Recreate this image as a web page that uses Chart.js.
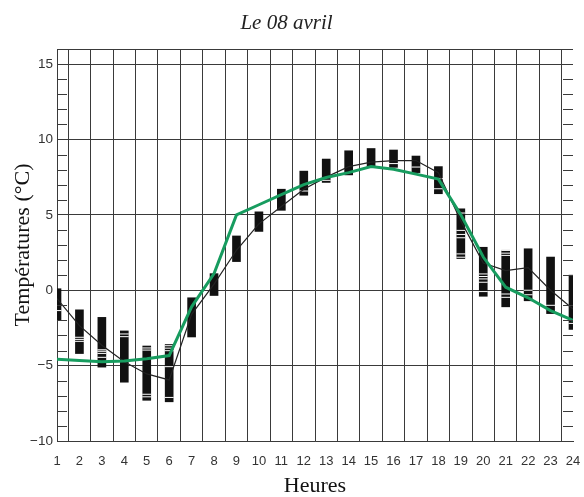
<!DOCTYPE html>
<html><head><meta charset="utf-8">
<script src="https://cdn.jsdelivr.net/npm/chart.js@4/dist/chart.umd.min.js"></script>
<style>html,body{margin:0;padding:0;background:#fff}#wrap{width:584px;height:497px}</style>
</head><body><div id="wrap"><canvas id="c"></canvas></div>
<script>
const hours = [1,2,3,4,5,6,7,8,9,10,11,12,13,14,15,16,17,18,19,20,21,22,23,24];
const boxLow  = [-2.0,-4.2,-5.1,-6.1,-7.3,-7.4,-3.1,-0.35,1.9,3.9,5.3,6.3,7.15,7.65,8.15,8.15,7.8,6.4,2.1,-0.4,-1.1,-0.7,-1.55,-2.6];
const boxHigh = [0.1,-1.3,-1.8,-2.7,-3.7,-3.6,-0.5,1.1,3.6,5.2,6.7,7.9,8.7,9.25,9.4,9.3,8.9,8.2,5.4,2.85,2.65,2.75,2.2,1.0];
const meanTemp  = [-0.55,-2.35,-3.65,-4.75,-5.55,-5.95,-1.6,0.4,2.65,4.4,5.55,6.7,7.5,8.2,8.5,8.6,8.6,7.8,4.6,1.8,1.3,1.5,0.0,-1.25];
const greenTemp = [-4.57,-4.66,-4.75,-4.7,-4.55,-4.33,-1.1,1.1,5.0,5.67,6.34,7.0,7.48,7.8,8.2,8.03,7.7,7.37,5.0,2.2,0.2,-0.5,-1.35,-2.0];
const stripeValues = [
  [-1.35],[-3.12,-3.26,-3.39],[-3.95,-4.05,-4.19,-4.45],[-2.9,-3.08],
  [-3.83,-3.97,-6.9,-7.07],[-3.68,-3.84,-4.01,-5.07,-7.11],[],[],
  [],[],[],[6.58],[7.29],[],[],[8.4],[8.17],[7.4,6.73],
  [5.12,3.97,3.7,3.48,2.41,2.19],[1.08,0.91,0.75,0.53,-0.09],[2.64,2.46,2.31,-0.25,-0.47],[0.0,-0.3],[-1.0],[-2.2]
];
const yMajorLabels = [-10,-5,0,5,10,15];

const stripePoints = [];
stripeValues.forEach((arr,i)=>arr.forEach(v=>stripePoints.push({x:hours[i],y:v})));

const gridCol = '#3a3a3a';
const minorTicks = {
  id:'minorTicks',
  afterDraw(chart){
    const y = chart.scales.y, a = chart.chartArea, ctx = chart.ctx;
    ctx.save();
    ctx.strokeStyle = gridCol; ctx.lineWidth = 1;
    for (let v = y.min; v <= y.max; v++) {
      if (yMajorLabels.includes(v) || v === y.max) continue;
      const py = Math.round(y.getPixelForValue(v)) + 0.5;
      ctx.beginPath();
      ctx.moveTo(a.left, py); ctx.lineTo(a.left + 10, py);
      ctx.moveTo(a.right - 10, py); ctx.lineTo(a.right, py);
      ctx.stroke();
    }
    ctx.restore();
  }
};

new Chart(document.getElementById('c'), {
  type: 'bar',
  data: {
    datasets: [
      { type:'line', data: hours.map((h,i)=>({x:h,y:greenTemp[i]})), borderColor:'#179c5f', borderWidth:3, pointRadius:0, order:0 },
      { type:'line', data: hours.map((h,i)=>({x:h,y:meanTemp[i]})), borderColor:'#222', borderWidth:1.2, pointRadius:0, order:1 },
      { type:'scatter', data: stripePoints, pointStyle:'line', pointRadius:4.5, borderColor:'#fff', borderWidth:1, order:2 },
      { type:'bar', data: hours.map((h,i)=>({x:h,y:[boxLow[i],boxHigh[i]]})), backgroundColor:'#111', barThickness:8, grouped:false, order:3 }
    ]
  },
  options: {
    responsive:true, maintainAspectRatio:false, animation:false,
    layout:{ padding:{ top:0, right:11, bottom:0, left:0 } },
    plugins:{
      legend:{display:false}, tooltip:{enabled:false},
      title:{ display:true, text:'Le 08 avril', color:'#222',
        font:{ family:'Liberation Serif', style:'italic', size:21, weight:'normal', lineHeight:1.2 },
        padding:{ top:10.5, bottom:13.3 } }
    },
    scales:{
      x:{ type:'linear', min:1, max:24, offset:false,
        ticks:{ stepSize:1, autoSkip:false, maxRotation:0, padding:13, color:'#333', font:{family:'Liberation Sans', size:13} },
        grid:{ color:gridCol, drawTicks:false, lineWidth:1 },
        border:{ display:true, color:gridCol },
        title:{ display:true, text:'Heures', color:'#111', font:{family:'Liberation Serif', size:22, lineHeight:1}, padding:{top:0,bottom:0} },
        afterFit(s){ s.height = 56; s.paddingLeft = 0; s.paddingRight = 0; }
      },
      y:{ type:'linear', min:-10, max:16,
        ticks:{ stepSize:1, autoSkip:false, padding:4, color:'#333', font:{family:'Liberation Sans', size:13.5},
          callback:(v)=> yMajorLabels.includes(v) ? String(v).replace('-','\u2212') : '' },
        grid:{ drawTicks:false, lineWidth:1, color:(c)=>{ const v=c.tick&&c.tick.value; return (yMajorLabels.includes(v)||v===16)?gridCol:'rgba(0,0,0,0)'; } },
        border:{ display:true, color:gridCol },
        title:{ display:true, text:'Températures (°C)', color:'#111', font:{family:'Liberation Serif', size:22, lineHeight:1}, padding:{top:12,bottom:0} },
        afterFit(s){ s.width = 57; s.paddingTop = 0; s.paddingBottom = 0; }
      }
    }
  },
  plugins:[minorTicks]
});
</script></body></html>
